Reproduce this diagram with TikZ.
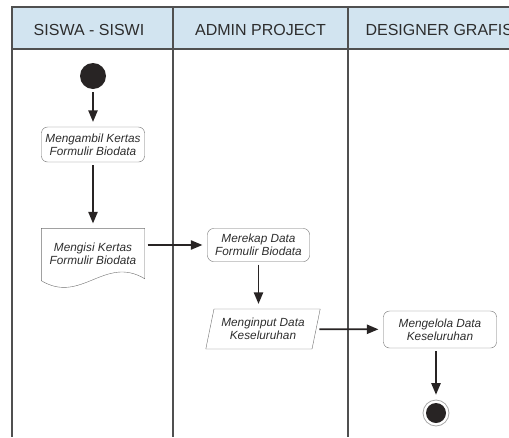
\documentclass[tikz,border=0pt]{standalone}
\usepackage{fontspec}
\setmainfont{Liberation Sans}
\usepackage{tikz}
\usetikzlibrary{arrows,shapes.geometric}
\definecolor{laneblue}{RGB}{210,228,240}
\definecolor{lanegray}{RGB}{80,80,80}
\definecolor{boxgray}{RGB}{110,110,110}
\definecolor{arrowdark}{RGB}{40,36,36}
\definecolor{textgray}{RGB}{45,45,45}

\begin{document}
\begin{tikzpicture}[x=1pt, y=-1pt,
		lane/.style={font=\fontsize{16}{18}\selectfont, text=textgray},
		act/.style={draw=boxgray, rounded corners=6pt, align=center, text=textgray, inner sep=1pt,
			font=\fontsize{11.8}{12.6}\selectfont\itshape},
		flow/.style={->, >=triangle 45, line width=1.7pt, arrowdark, shorten >=5pt, shorten <=3pt}]
		\clip (0, 0) rectangle (509, 437);
		\fill[laneblue] (12, 7) rectangle (509, 49);
		\draw[lanegray, line width=1.2pt] (509, 7) -- (12, 7) -- (12, 437);
		\draw[lanegray, line width=1.2pt] (12, 49) -- (509, 49);
		\draw[lanegray, line width=1.2pt] (173, 7) -- (173, 437);
		\draw[lanegray, line width=1.2pt] (348, 7) -- (348, 437);
		
		\node[lane] (h1) at (89, 30) {SISWA - SISWI};
		\node[lane] (h2) at (260.5, 30) {ADMIN PROJECT};
		\node[lane, anchor=west] (h3) at (362, 30) {DESIGNER GRAFIS};
		
		\node[circle, fill=arrowdark, minimum size=26pt, inner sep=0pt] (0) at (93, 76) {};
		\node[act, minimum width=103pt, minimum height=35pt] (1) at (93, 144.5) {Mengambil Kertas\\Formulir Biodata};
		\node[align=center, text=textgray, inner sep=1pt, minimum width=103pt, minimum height=50pt,
			font=\fontsize{11.8}{12.6}\selectfont\itshape] (2) at (93, 253.5) {Mengisi Kertas\\Formulir Biodata};
		\draw[boxgray] ([yshift=-2pt]2.south west) -- (2.north west) -- (2.north east) -- (2.south east)
			.. controls +(-40, -24) and +(40, 24) .. ([yshift=-2pt]2.south west);
		
		\node[act, minimum width=102pt, minimum height=33pt] (3) at (258.5, 245) {Merekap Data\\Formulir Biodata};
		\node[trapezium, trapezium left angle=73, trapezium right angle=107, trapezium stretches=true,
			draw=boxgray, align=center, text=textgray, inner sep=1pt, minimum width=115pt, minimum height=40pt,
			font=\fontsize{11.8}{12.6}\selectfont\itshape] (4) at (263, 329) {Menginput Data\\Keseluruhan};
		
		\node[act, minimum width=113pt, minimum height=37pt] (5) at (440, 329.5) {Mengelola Data\\Keseluruhan};
		\node[circle, draw=boxgray!60, line width=0.8pt, minimum size=26pt, inner sep=0pt] (6) at (436, 413) {};
		\node[circle, fill=arrowdark, minimum size=20pt, inner sep=0pt] (7) at (436, 413) {};
		
		\draw[flow] (0) -- (1);
		\draw[flow] (1) -- (2);
		\draw[flow] (2.east |- 3) -- (3);
		\draw[flow] (3) -- (3 |- 4.north);
		\draw[flow] (4) -- (5);
		\draw[flow] (5.south -| 6) -- (6);
	\end{tikzpicture}
\end{document}
